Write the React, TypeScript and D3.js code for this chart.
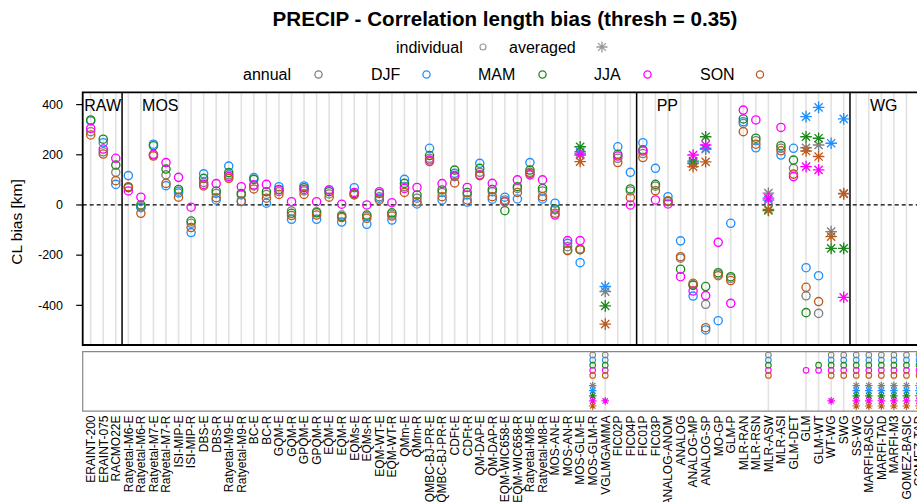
import React from "react";
import * as d3 from "d3";

const categories = [
  "ERAINT-200", "ERAINT-075", "RACMO22E", "Ratyetal-M6-E", "Ratyetal-M6-R", "Ratyetal-M7-E", "Ratyetal-M7-R",
  "ISI-MIP-E", "ISI-MIP-R", "DBS-E", "DBS-R", "Ratyetal-M9-E", "Ratyetal-M9-R", "BC-E", "BC-R",
  "GQM-E", "GQM-R", "GPQM-E", "GPQM-R", "EQM-E", "EQM-R", "EQMs-E", "EQMs-R", "EQM-WT-E", "EQM-WT-R",
  "QMm-E", "QMm-R", "QMBC-BJ-PR-E", "QMBC-BJ-PR-R", "CDFt-E", "CDFt-R", "QM-DAP-E", "QM-DAP-R",
  "EQM-WIC658-E", "EQM-WIC658-R", "Ratyetal-M8-E", "Ratyetal-M8-R", "MOS-AN-E", "MOS-AN-R",
  "MOS-GLM-E", "MOS-GLM-R", "VGLMGAMMA", "FIC02P", "FIC04P", "FIC01P", "FIC03P", "ANALOG-ANOM",
  "ANALOG", "ANALOG-MP", "ANALOG-SP", "MO-GP", "GLM-P", "MLR-RAN", "MLR-RSN", "MLR-ASW", "MLR-ASI",
  "GLM-DET", "GLM", "GLM-WT", "WT-WG", "SWG", "SS-WG", "MARFI-BASIC", "MARFI-TAD", "MARFI-M3",
  "GOMEZ-BASIC", "GOMEZ-TAD", "GOMEZ-M3",
];

const groupNames = ["RAW", "MOS", "PP", "WG"];
const groupFirst = ["ERAINT-200", "Ratyetal-M6-E", "FIC01P", "SS-WG"];

const seasons = ["annual", "DJF", "MAM", "JJA", "SON"];
const seasonColors = ["#808080", "#1E90FF", "#1B8A1B", "#FF00FF", "#BF5A1C"];

// individual results (one value per category, null = not available)
const indAnnual = [292, 212, 130, 69, -7, 199, 120, 55, -73, 90, 46, 120, 40, 76, 42, 53, -24, 56, -27, 44, -40, 42, -46, 33, -37, 73, 27, 186, 50, 113, 40, 130, 53, 20, 66, 130, 56, -20, -166, -175, null, null, 186, 56, 205, 75, 13, -212, -318, -396, -276, -292, 325, 256, null, 226, 146, -362, -432, null, null, null, null, null, null, null, null, null];
const indDJF = [335, 248, 82, 117, -11, 242, 77, 48, -110, 124, 20, 155, 13, 109, 7, 73, -57, 76, -57, 60, -68, 69, -77, 27, -60, 102, 4, 226, 20, 126, 11, 166, 23, 31, 24, 169, 24, 7, -153, -230, null, null, 232, 130, 248, 146, 33, -143, -363, -498, -461, -73, 332, 228, null, 199, 226, -250, -282, null, null, null, null, null, null, null, null, null];
const indMAM = [339, 262, 159, 70, 0, 236, 143, 62, -64, 106, 56, 129, 46, 102, 53, 62, -33, 69, -31, 53, -46, 45, -40, 46, -31, 86, 40, 197, 60, 139, 50, 146, 62, -23, 73, 139, 66, -16, -180, -178, null, null, 202, 64, 220, 82, 16, -256, -320, -325, -270, -286, 343, 266, null, 236, 179, -429, null, null, null, null, null, null, null, null, null, null];
const indJJA = [305, 223, 186, 56, 31, 202, 169, 110, -9, 82, 85, 113, 73, 80, 82, 60, 13, 62, 13, 60, 3, 50, 0, 53, 9, 66, 70, 179, 85, 117, 70, 120, 86, 13, 100, 120, 100, -40, -142, -142, null, null, 195, 0, 215, 20, 4, -286, -343, -361, -149, -392, 378, 339, null, 309, 113, null, null, null, null, null, null, null, null, null, null, null];
const indSON = [279, 203, 97, 73, -33, 195, 86, 31, -90, 76, 29, 106, 16, 64, 27, 42, -42, 42, -40, 31, -50, 40, -53, 20, -44, 50, 13, 173, 33, 88, 20, 117, 33, 13, 50, 126, 33, -33, -182, -178, null, null, 169, 29, 189, 57, 16, -206, -312, -489, -282, -301, 292, 242, null, 216, 123, -328, -385, null, null, null, null, null, null, null, null, null];

// averaged results (only for the categories listed)
const averagedCategories = ["MOS-GLM-E", "MOS-GLM-R", "VGLMGAMMA", "ANALOG-MP", "ANALOG-SP", "MLR-ASW", "GLM", "GLM-WT", "WT-WG", "SWG", "SS-WG", "MARFI-BASIC", "MARFI-TAD", "MARFI-M3", "GOMEZ-BASIC", "GOMEZ-TAD", "GOMEZ-M3"];
const avgAnnual = [205, null, -345, 165, 222, 47, 228, 239, -106, 46, null, null, null, null, null, null, null];
const avgDJF = [212, null, -325, 168, 226, 20, 352, 389, 246, 343, null, null, null, null, null, null, null];
const avgMAM = [232, null, -402, 175, 272, -22, 272, 266, -173, -173, null, null, null, null, null, null, null];
const avgJJA = [199, null, null, 199, 239, 27, 153, 140, null, -368, null, null, null, null, null, null, null];
const avgSON = [173, null, -475, 153, 172, -18, 215, 193, -126, 44, null, null, null, null, null, null, null];

const yTicks = [-400, -200, 0, 200, 400];

const FONT = "'Liberation Sans', Arial, Helvetica, sans-serif";

function starPath(cx: number, cy: number, r: number) {
  const d = r / Math.SQRT2;
  return `M${cx - r},${cy}H${cx + r}M${cx},${cy - r}V${cy + r}M${cx - d},${cy - d}L${cx + d},${cy + d}M${cx - d},${cy + d}L${cx + d},${cy - d}`;
}

export default function App() {
  const W = 917;
  const H = 502;
  const n = categories.length;
  const x0 = 90.7;
  const step = 12.55;
  const x = d3.scalePoint<string>().domain(categories).range([x0, x0 + step * (n - 1)]);
  const panelTop = 92.3;
  const panelBottom = 345;
  const panelLeft = 82.7;
  const panelRight = x0 + step * (n - 1) + step * 0.7;
  const y = d3.scaleLinear().domain([-558, 449]).range([panelBottom, panelTop]);
  const lowTop = 351.7;
  const lowBottom = 411.2;
  const yRow = d3.scaleLinear().domain([0, 10]).range([355, 406]);

  const indSeries = [indAnnual, indDJF, indMAM, indJJA, indSON];
  const avgSeries = [avgAnnual, avgDJF, avgMAM, avgJJA, avgSON];

  const R = 4.1;
  const STAR = R * Math.SQRT2;

  const separators = groupFirst.slice(1).map((c) => (x(c)! - step / 2));
  const groupLabelX = groupFirst.map((c, i) => (i === 0 ? panelLeft + 1.6 : x(c)! - step / 2 + 20));

  const missing: { cat: string; row: number; s: number; avg: boolean }[] = [];
  categories.forEach((c, i) => {
    indSeries.forEach((arr, s) => {
      if (arr[i] == null) missing.push({ cat: c, row: s, s, avg: false });
    });
    const j = averagedCategories.indexOf(c);
    if (j >= 0) {
      avgSeries.forEach((arr, s) => {
        if (arr[j] == null) missing.push({ cat: c, row: 6 + s, s, avg: true });
      });
    }
  });
  const missingCats = Array.from(new Set(missing.map((m) => m.cat)));

  const legendRow2 = [
    { tx: 243, cx: 318.5 },
    { tx: 371, cx: 426.5 },
    { tx: 478, cx: 542.5 },
    { tx: 594, cx: 647.5 },
    { tx: 700, cx: 760 },
  ];

  return (
    <div style={{ position: "absolute", left: 0, top: 0, width: W, height: H, overflow: "hidden", background: "#fff" }}>
      <svg width={W} height={H} style={{ display: "block", fontFamily: FONT }}>
        <rect x={0} y={0} width={W} height={H} fill="#fff" />
        <text x={505} y={25.5} textAnchor="middle" fontSize={20.6} fontWeight="bold" fill="#000">
          PRECIP - Correlation length bias (thresh = 0.35)
        </text>
        <text x={396} y={52.5} fontSize={16} fill="#000">individual</text>
        <circle cx={483} cy={47} r={3} fill="none" stroke="#999" strokeWidth={1.2} />
        <text x={509} y={52.5} fontSize={16} fill="#000">averaged</text>
        <path d={starPath(602, 47, 5.5)} stroke="#999" strokeWidth={1.3} fill="none" />
        {seasons.map((s, i) => (
          <g key={s}>
            <text x={legendRow2[i].tx} y={80} fontSize={16} fill="#000">{s}</text>
            <circle cx={legendRow2[i].cx} cy={74.5} r={3.6} fill="none" stroke={seasonColors[i]} strokeWidth={1.3} />
          </g>
        ))}

        {categories.map((c) => (
          <line key={"g" + c} x1={x(c)} x2={x(c)} y1={panelTop} y2={panelBottom} stroke="#e2e2e2" strokeWidth={1.6} />
        ))}
        <line x1={panelLeft} x2={panelRight} y1={y(0)} y2={y(0)} stroke="#000" strokeWidth={1.2} strokeDasharray="4,3" />
        {separators.map((sx, i) => (
          <line key={"sep" + i} x1={sx} x2={sx} y1={panelTop} y2={panelBottom} stroke="#000" strokeWidth={1.5} />
        ))}
        {groupNames.map((g, i) => (
          <text key={g} x={groupLabelX[i]} y={110.5} fontSize={16} fill="#000">{g}</text>
        ))}
        {indSeries.map((arr, s) =>
          categories.map((c, i) =>
            arr[i] == null ? null : (
              <circle key={`c${s}-${i}`} cx={x(c)} cy={y(arr[i] as number)} r={R} fill="none" stroke={seasonColors[s]} strokeWidth={1.35} />
            )
          )
        )}
        {avgSeries.map((arr, s) =>
          averagedCategories.map((c, j) =>
            arr[j] == null ? null : (
              <path key={`a${s}-${j}`} d={starPath(x(c)!, y(arr[j] as number), STAR)} stroke={seasonColors[s]} strokeWidth={1.35} fill="none" />
            )
          )
        )}
        <path d={`M${panelRight},${panelTop}H${panelLeft}V${panelBottom}H${panelRight}`} fill="none" stroke="#000" strokeWidth={1.8} />
        {yTicks.map((t) => (
          <g key={"t" + t}>
            <line x1={panelLeft - 6.5} x2={panelLeft} y1={y(t)} y2={y(t)} stroke="#000" strokeWidth={1.2} />
            <text x={63} y={y(t) + 4.3} textAnchor="end" fontSize={12.5} fill="#000">{t}</text>
          </g>
        ))}
        <text transform={`translate(21.5,222) rotate(-90)`} textAnchor="middle" fontSize={15.5} fill="#000">CL bias [km]</text>

        {missingCats.map((c) => (
          <line key={"lg" + c} x1={x(c)} x2={x(c)} y1={lowTop} y2={lowBottom} stroke="#e2e2e2" strokeWidth={1.6} />
        ))}
        <path d={`M${panelRight},${lowTop}H${panelLeft}V${lowBottom}H${panelRight}`} fill="none" stroke="#888" strokeWidth={1.2} />
        {missing.map((m, k) =>
          m.avg ? (
            <path key={"m" + k} d={starPath(x(m.cat)!, yRow(m.row), 3.8)} stroke={seasonColors[m.s]} strokeWidth={1.2} fill="none" />
          ) : (
            <circle key={"m" + k} cx={x(m.cat)} cy={yRow(m.row)} r={2.8} fill="none" stroke={seasonColors[m.s]} strokeWidth={1.1} />
          )
        )}

        {categories.map((c) => (
          <text key={"xl" + c} transform={`translate(${x(c)! + 4.3},415.5) rotate(-90)`} textAnchor="end" fontSize={12} fill="#000">
            {c}
          </text>
        ))}
      </svg>
    </div>
  );
}
